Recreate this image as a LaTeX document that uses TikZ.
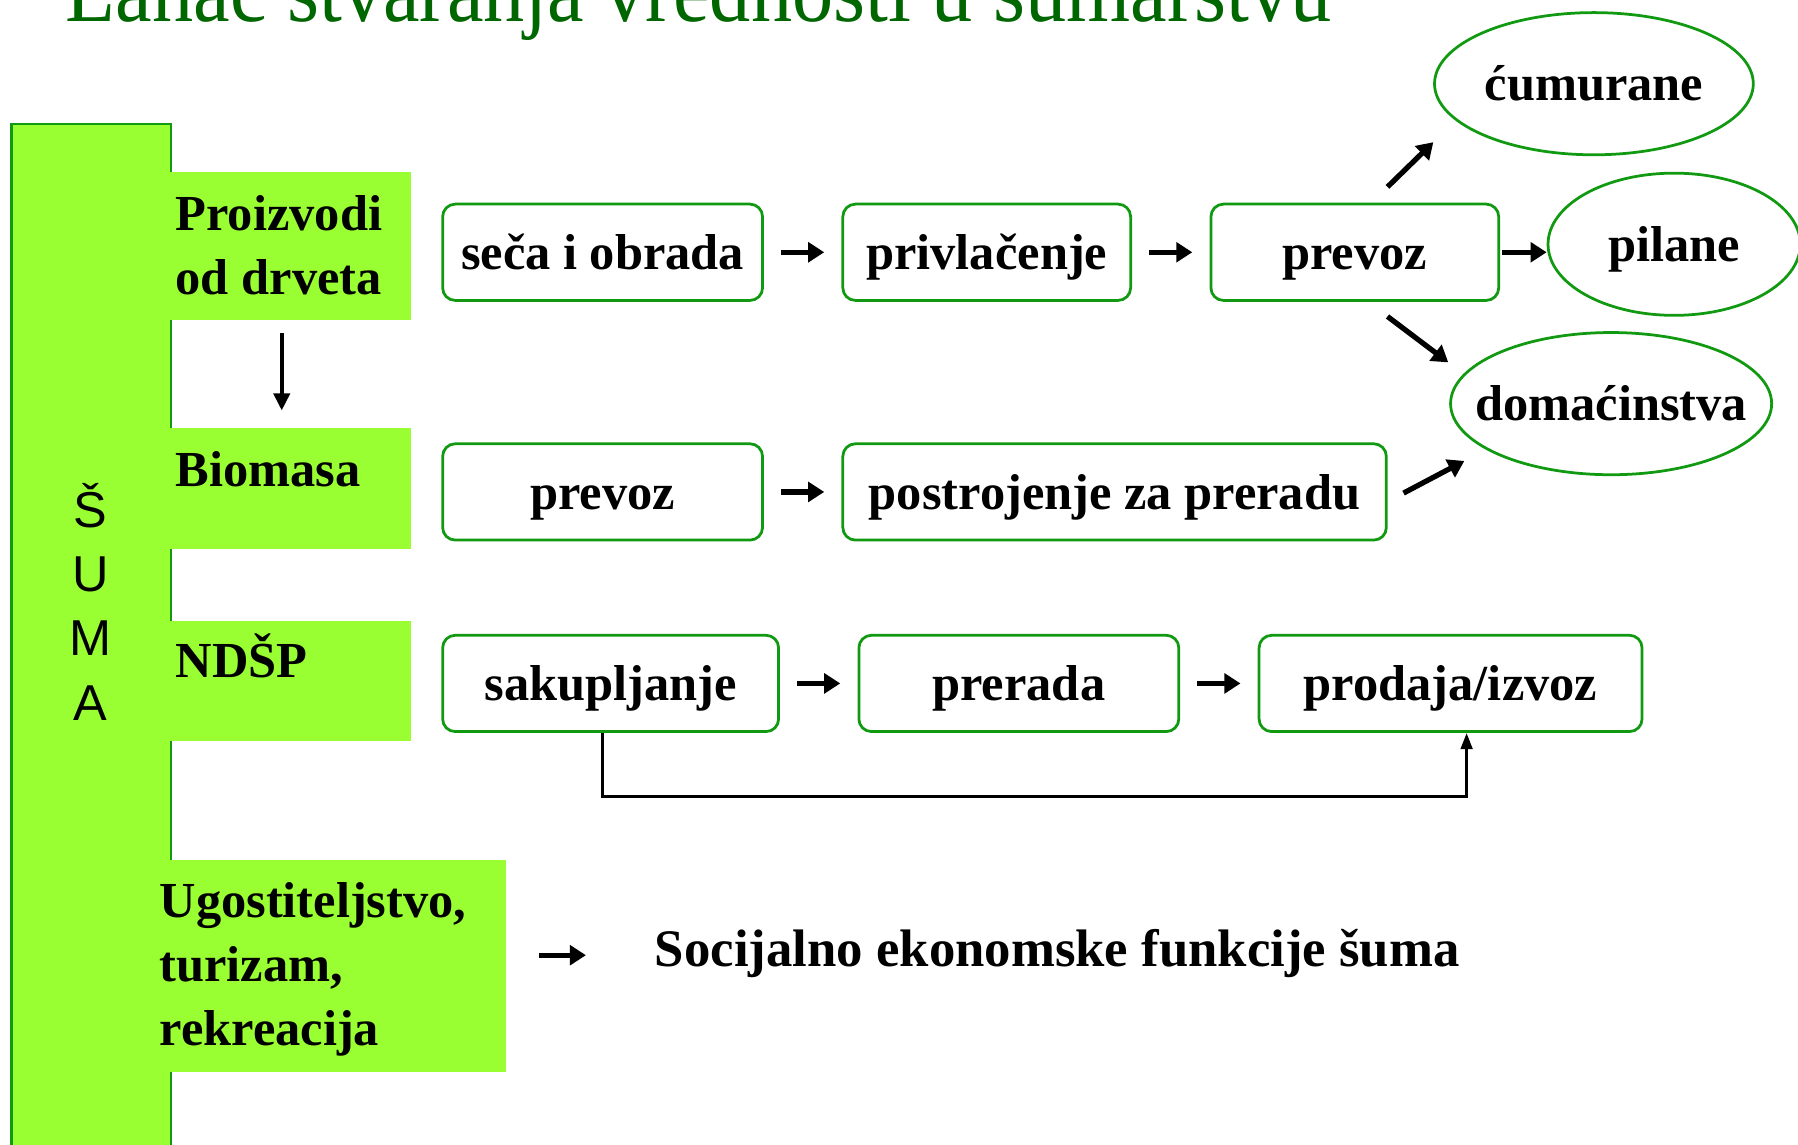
\documentclass[tikz,border=0pt]{standalone}
\usepackage{fontspec}
\setmainfont{Liberation Serif}
\newfontfamily\sumafont{Liberation Sans}
\usetikzlibrary{shapes.geometric,arrows.meta}
\definecolor{barfill}{HTML}{99FF33}
\definecolor{edgegreen}{HTML}{119911}
\definecolor{titlegreen}{HTML}{006600}
\newcommand{\zw}[1]{\makebox[0pt]{#1}}
\tikzset{
  procbox/.style={draw=edgegreen, line width=2.4pt, rounded corners=11pt,
    minimum height=84pt, inner sep=0pt, text height=34pt, text depth=4pt,
    font=\fontsize{44}{44}\selectfont\bfseries},
  ellbox/.style={ellipse, draw=edgegreen, line width=2.4pt, inner sep=0pt,
    text height=34pt, text depth=4pt, font=\fontsize{44}{44}\selectfont\bfseries},
  catbox/.style={fill=barfill, inner sep=0pt, anchor=north west},
  cattext/.style={anchor=base west, inner sep=0pt, align=left,
    font=\fontsize{44}{56}\selectfont\bfseries},
  fatarrow/.style={line width=4.6pt, -{Triangle[length=14pt,width=17pt]}},
  thinarrow/.style={line width=3.5pt, -{Triangle[length=15pt,width=14pt]}},
  linkarrow/.style={line width=2.6pt, -{Triangle[length=14pt,width=10pt]}},
}
\begin{document}
\begin{tikzpicture}[x=1pt,y=-1pt]
\useasboundingbox (0,0) rectangle (1568,998);
\fill[white] (0,0) rectangle (1568,998);

% title (cut at top)
\node[anchor=base west, inner sep=0pt, text=titlegreen] (title) at (57,19)
  {\scalebox{0.92}[1]{\fontsize{78}{78}\selectfont Lanac stvaranja vrednosti u šumarstvu}};

% left bar
\draw[fill=barfill, draw=edgegreen, line width=2pt] (10,1010) -- (10,108) -- (149,108) -- (149,1010);
\node[anchor=base, inner sep=0pt, align=center, font=\sumafont\fontsize{44}{56}\selectfont] (suma) at (79,628) {Š\\U\\M\\A};

% category boxes
\node[catbox, minimum width=211pt, minimum height=129pt] (pd) at (147.5,150) {};
\node[catbox, minimum width=211pt, minimum height=106pt] (bm) at (147.5,373) {};
\node[catbox, minimum width=211pt, minimum height=105pt] (nd) at (147.5,541) {};
\node[catbox, minimum width=294pt, minimum height=185pt] (ug) at (147.5,750) {};

\node[cattext] (pdt) at (153,257) {Proizvodi\\od drveta};
\node[cattext] (bmt) at (153,424) {Biomasa};
\node[cattext] (ndt) at (153,591) {NDŠP};
\node[cattext] (ugt) at (139,912) {Ugostiteljstvo,\\turizam,\\rekreacija};

% row 1
\node[procbox, minimum width=279pt] (seca) at (525.5,220) {seča i obrada};
\node[procbox, minimum width=251pt] (privl) at (860.5,220) {privlačenje};
\node[procbox, minimum width=251pt] (prev1) at (1181.5,220) {prevoz};
% row 2
\node[procbox, minimum width=279pt] (prev2) at (525.5,429) {prevoz};
\node[procbox, minimum width=474pt] (postr) at (972,429) {postrojenje za preradu};
% row 3
\node[procbox, minimum width=293pt] (sak) at (532.5,596) {sakupljanje};
\node[procbox, minimum width=279pt] (prer) at (888.5,596) {prerada};
\node[procbox, minimum width=334pt] (prod) at (1265,596) {prodaja/izvoz};

% ellipses
\node[ellbox, minimum width=278pt, minimum height=124pt] (cum) at (1390,73) {\zw{ćumurane}};
\node[ellbox, minimum width=220pt, minimum height=124pt] (pil) at (1460,213) {\zw{pilane}};
\node[ellbox, minimum width=280pt, minimum height=124pt] (dom) at (1405,352) {\zw{domaćinstva}};

% social
\node[anchor=base west, inner sep=0pt, font=\fontsize{46}{46}\selectfont\bfseries] (soc) at (571,843) {Socijalno ekonomske funkcije šuma};

% free arrow ends
\coordinate (cumS) at (1210,163);
\coordinate (cumE) at (1250,124);
\coordinate (domS) at (1210,276);
\coordinate (domE) at (1263,316);
\coordinate (pstS) at (1224,430);
\coordinate (pstE) at (1277,402);
\coordinate (ugS) at (470,833);
\coordinate (ugE) at (511,833);

% arrows
\draw[thinarrow] ([xshift=-7.5pt,yshift=-11pt]pd.south) -- ([xshift=-7.5pt,yshift=15pt]bm.north);
\draw[fatarrow] ([xshift=15pt]seca.east) -- ([xshift=-15pt]privl.west);
\draw[fatarrow] ([xshift=15pt]privl.east) -- ([xshift=-15pt]prev1.west);
\draw[fatarrow] ([xshift=2pt]prev1.east) -- (prev1.east -| pil.west);
\draw[fatarrow] (cumS) -- (cumE);
\draw[fatarrow] (domS) -- (domE);
\draw[fatarrow] ([xshift=15pt]prev2.east) -- ([xshift=-15pt]postr.west);
\draw[fatarrow] (pstS) -- (pstE);
\draw[fatarrow] ([xshift=15pt]sak.east) -- ([xshift=-15pt]prer.west);
\draw[fatarrow] ([xshift=15pt]prer.east) -- ([xshift=-15pt]prod.west);
\draw[fatarrow] (ugS) -- (ugE);
\draw[linkarrow] ([xshift=-7.5pt]sak.south) -- ++(0,55) -| ([xshift=14pt]prod.south);
\end{tikzpicture}
\end{document}
